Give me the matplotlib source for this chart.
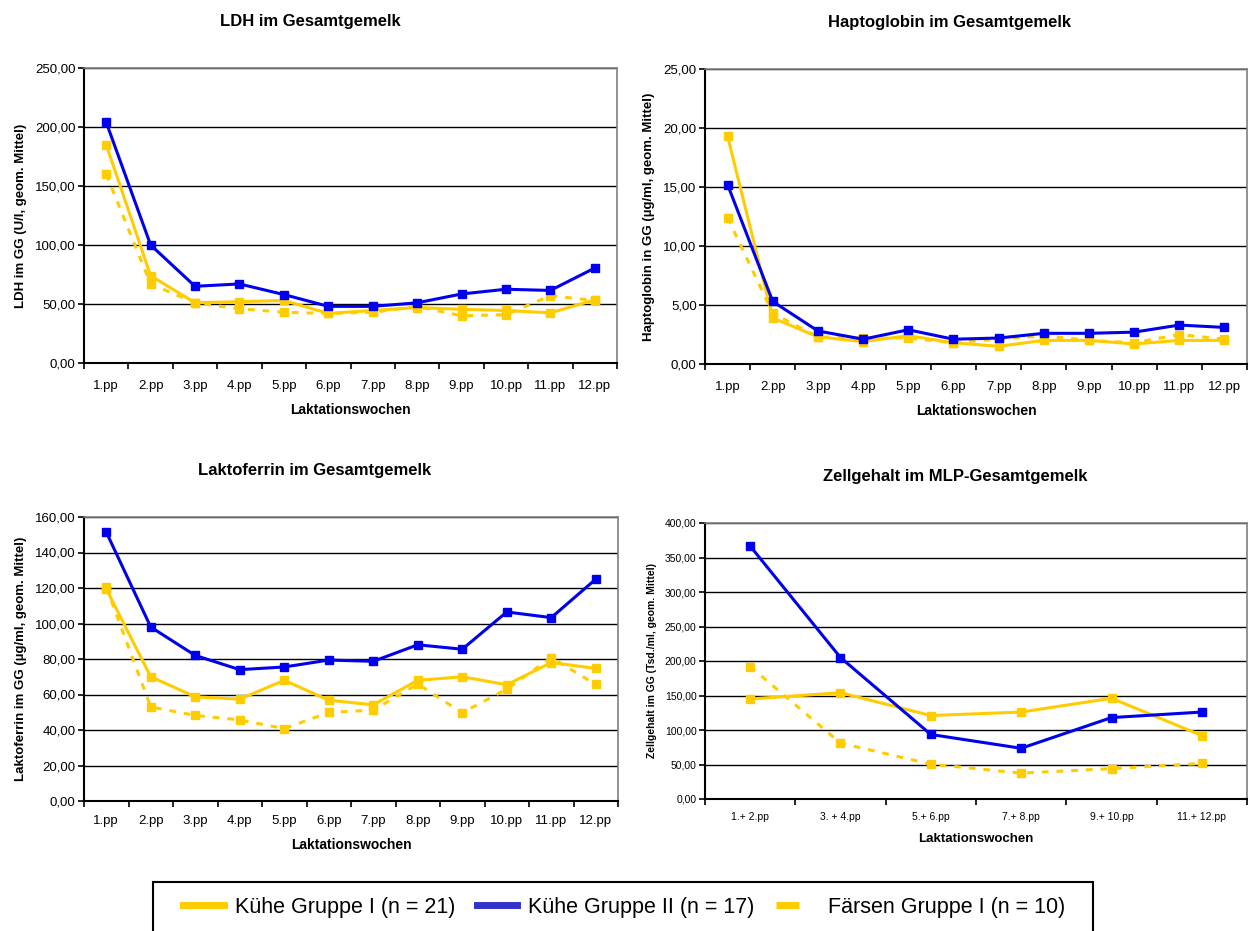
import matplotlib
matplotlib.use("Agg")
from matplotlib import pyplot as plt
from matplotlib.lines import Line2D
from matplotlib.patches import Rectangle
from matplotlib.ticker import FuncFormatter, FixedLocator, MultipleLocator

plt.rcParams['font.family'] = ['Liberation Sans', 'DejaVu Sans']

# Kategorien
weeks = ["1.pp", "2.pp", "3.pp", "4.pp", "5.pp", "6.pp",
         "7.pp", "8.pp", "9.pp", "10.pp", "11.pp", "12.pp"]
week_pairs = ["1.+ 2.pp", "3. + 4.pp", "5.+ 6.pp", "7.+ 8.pp", "9.+ 10.pp", "11.+ 12.pp"]

# LDH im Gesamtgemelk (U/l)
ldh_kuehe1 = [185, 74, 51, 52, 53, 42, 44.5, 47, 45.5, 44.5, 42.5, 53.5]
ldh_kuehe2 = [204, 100, 65, 67, 58, 48, 48, 51, 58.5, 62.5, 61.5, 80.5]
ldh_faersen = [160, 67, 51, 46, 43, 42, 43, 48, 40, 41, 57, 53]

# Haptoglobin im Gesamtgemelk (ug/ml)
hp_kuehe1 = [19.3, 3.9, 2.3, 1.9, 2.4, 1.8, 1.5, 2.0, 2.0, 1.7, 2.0, 2.0]
hp_kuehe2 = [15.2, 5.3, 2.8, 2.1, 2.9, 2.1, 2.2, 2.6, 2.6, 2.7, 3.3, 3.1]
hp_faersen = [12.4, 4.3, 2.3, 2.2, 2.2, 1.8, 2.1, 2.4, 2.0, 1.8, 2.5, 2.1]

# Laktoferrin im Gesamtgemelk (ug/ml)
lf_kuehe1 = [119.5, 70, 58.7, 57.4, 68, 56.8, 54.2, 68, 70, 65.5, 78, 74.7]
lf_kuehe2 = [151.5, 98, 82, 74, 75.5, 79.4, 78.7, 88, 85.5, 106.5, 103.3, 125]
lf_faersen = [120.5, 53, 48.2, 45.7, 40.8, 49.9, 51.2, 65.9, 49.7, 63, 80.8, 65.7]

# Zellgehalt im MLP-Gesamtgemelk (Tsd./ml)
zg_kuehe1 = [145, 154, 121, 126, 146, 92]
zg_kuehe2 = [366.5, 205, 93.5, 73.5, 118, 126]
zg_faersen = [192, 81, 50.5, 37.5, 44, 51.5]

YELLOW = "#ffcc00"
BLUE = "#0000ee"
W, H = 1250, 931


def px_axes(fig, left, top, right, bottom):
    return fig.add_axes([left / W, 1 - bottom / H, (right - left) / W, (bottom - top) / H])


def comma(v, pos):
    return f"{v:.2f}".replace(".", ",")


def draw_panel(ax, cats, k1, k2, f1, ymax, ystep, title, title_x, ylabel,
               tick_fs, ylab_fs, xlab_fs, xpad):
    x = list(range(len(cats)))
    ax.plot(x, f1, color=YELLOW, lw=2.2, linestyle=(0, (2.2, 2.6)),
            marker="s", ms=6, mec=YELLOW, zorder=3)
    ax.plot(x, k1, color=YELLOW, lw=2.2, marker="s", ms=6, zorder=4)
    ax.plot(x, k2, color=BLUE, lw=2.2, marker="s", ms=6, zorder=5)

    ax.set_xlim(-0.5, len(cats) - 0.5)
    ax.set_ylim(0, ymax)
    ax.yaxis.set_major_locator(MultipleLocator(ystep))
    ax.yaxis.set_major_formatter(FuncFormatter(comma))
    ax.grid(axis="y", color="black", lw=1)
    ax.set_axisbelow(True)

    ax.xaxis.set_major_locator(FixedLocator(x))
    ax.set_xticklabels(cats)
    ax.xaxis.set_minor_locator(FixedLocator([i - 0.5 for i in range(len(cats) + 1)]))
    ax.tick_params(axis="x", which="major", length=0, pad=xpad, labelsize=tick_fs)
    ax.tick_params(axis="x", which="minor", length=4, width=1.2, direction="out")
    ax.tick_params(axis="y", length=4, width=1.2, direction="out", pad=2, labelsize=tick_fs)

    for side in ("top", "right"):
        ax.spines[side].set_color("#808080")
        ax.spines[side].set_linewidth(1.2)
    for side in ("left", "bottom"):
        ax.spines[side].set_color("black")
        ax.spines[side].set_linewidth(1.5)

    # Titel ist im Diagrammbereich zentriert, nicht ueber der Zeichenflaeche
    bb = ax.get_position()
    tx = (title_x / W - bb.x0) / bb.width
    ax.set_title(title, fontsize=12, fontweight="bold", pad=30, x=tx)
    ax.set_ylabel(ylabel, fontsize=ylab_fs, fontweight="bold", labelpad=6)
    ax.set_xlabel("Laktationswochen", fontsize=xlab_fs, fontweight="bold", labelpad=8)


fig = plt.figure(figsize=(12.5, 9.31), dpi=100)

ax1 = px_axes(fig, 84, 68, 617, 363)
draw_panel(ax1, weeks, ldh_kuehe1, ldh_kuehe2, ldh_faersen, 250, 50,
           "LDH im Gesamtgemelk", 310, "LDH im GG (U/l, geom. Mittel)", 9.5, 9.5, 10, 12)

ax2 = px_axes(fig, 705, 69, 1247, 364)
draw_panel(ax2, weeks, hp_kuehe1, hp_kuehe2, hp_faersen, 25, 5,
           "Haptoglobin im Gesamtgemelk", 950, "Haptoglobin in GG (µg/ml, geom. Mittel)",
           9.5, 9.5, 10, 12)

ax3 = px_axes(fig, 84, 517, 618, 801)
draw_panel(ax3, weeks, lf_kuehe1, lf_kuehe2, lf_faersen, 160, 20,
           "Laktoferrin im Gesamtgemelk", 315, "Laktoferrin im GG (µg/ml, geom. Mittel)",
           9.5, 9.5, 10, 10)

ax4 = px_axes(fig, 705, 523, 1247, 799)
draw_panel(ax4, week_pairs, zg_kuehe1, zg_kuehe2, zg_faersen, 400, 50,
           "Zellgehalt im MLP-Gesamtgemelk", 955, "Zellgehalt im GG (Tsd./ml, geom. Mittel)",
           7.5, 7.5, 9.5, 9)

# Legende mit eigenem Rahmen (unten angeschnitten wie im Original)
fig.patches.append(Rectangle((153 / W, -0.01), 940 / W, 0.01 + 49 / H,
                             transform=fig.transFigure, facecolor="white",
                             edgecolor="black", lw=1.5, zorder=0))
handles = [
    Line2D([], [], color=YELLOW, lw=5),
    Line2D([], [], color="#3333cc", lw=5),
    Line2D([], [], color=YELLOW, lw=5, linestyle=(0, (3.3, 10))),
]
labels = ["Kühe Gruppe I (n = 21)", "Kühe Gruppe II (n = 17)", "Färsen Gruppe I (n = 10)"]
fig.legend(handles, labels, loc="center left", bbox_to_anchor=(183 / W, 1 - 907 / H),
           ncol=3, fontsize=15.5, frameon=False, handlelength=1.9, borderpad=0,
           handletextpad=0.5, columnspacing=1.0, borderaxespad=0)

fig.savefig("out.png", dpi=100)
